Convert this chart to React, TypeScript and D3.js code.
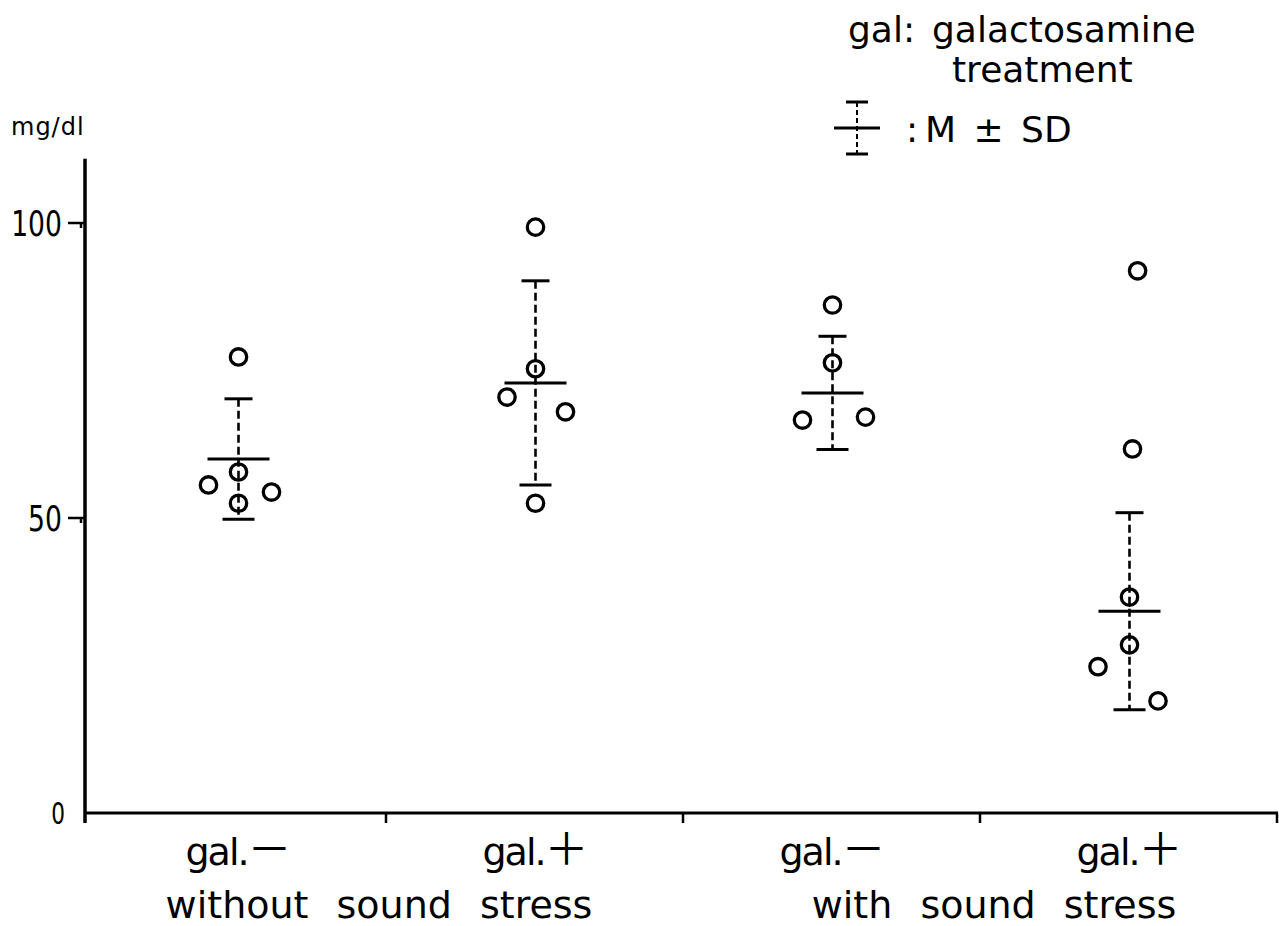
import React from "react";
import * as d3 from "d3";

const categories = ["gal.－", "gal.＋", "gal.－", "gal.＋"];
const groupLabels = ["without sound stress", "with sound stress"];
const yTicks = [0, 50, 100];

// individual values per category (mg/dl) and horizontal slot (-1 left, 0 center, 1 right)
const values1 = [77.3, 57.8, 55.6, 54.4, 52.5];
const slots1 = [0, 0, -1, 1.1, 0];
const values2 = [99.3, 75.3, 70.5, 68.0, 52.5];
const slots2 = [0, 0, -0.95, 1, 0];
const values3 = [86.1, 76.3, 66.6, 67.1];
const slots3 = [0, 0, -1, 1.1];
const values4 = [91.9, 61.7, 36.6, 28.5, 24.8, 19.0];
const slots4 = [0.27, 0.1, 0, 0, -1.05, 0.95];

const means = [60.0, 72.9, 71.2, 34.2];
const sds = [10.2, 17.3, 9.6, 16.7];

const W = 1279;
const H = 926;
const axisX = 85;
const font = "'DejaVu Sans', 'Noto Sans', sans-serif";
const cjk = "'Noto Sans CJK JP', 'Noto Sans CJK SC', sans-serif";

export default function App() {
  const y = d3.scaleLinear().domain([0, 100]).range([813, 223]);
  const x = d3
    .scaleBand<number>()
    .domain(categories.map((_, i) => i))
    .range([90, 1278])
    .padding(0);
  const bw = x.bandwidth();
  const cx = (i: number) => (x(i) as number) + bw / 2;
  const groups = [
    { v: values1, s: slots1 },
    { v: values2, s: slots2 },
    { v: values3, s: slots3 },
    { v: values4, s: slots4 },
  ];
  const slotW = 30;
  const meanHalf = 31;
  const capHalf = 14;
  const tickBounds = categories.map((_, i) => (x(i) as number) + bw);

  return (
    <svg
      width={W}
      height={H}
      style={{ position: "absolute", left: 0, top: 0, background: "#fff" }}
    >
      <rect x={0} y={0} width={W} height={H} fill="#fff" />
      {/* y axis */}
      <line x1={axisX} x2={axisX} y1={y(110.9)} y2={823} stroke="#000" strokeWidth={3.5} />
      {/* x axis */}
      <line x1={axisX} x2={1278} y1={y(0)} y2={y(0)} stroke="#000" strokeWidth={3} />
      {tickBounds.map((b, i) => (
        <line key={i} x1={b - 1} x2={b - 1} y1={y(0)} y2={y(0) + 10} stroke="#000" strokeWidth={2.5} />
      ))}
      {yTicks.map((t) => {
        const s = String(t);
        const big = t > 0;
        return (
          <g key={t}>
            {big && (
              <path
                d={`M${axisX - 17},${y(t)} L${axisX},${y(t)} M${axisX - 4},${y(t)} L${axisX - 4},${y(t) + 5}`}
                stroke="#000"
                strokeWidth={2.5}
                fill="none"
              />
            )}
            <text
              transform={`translate(${big ? axisX - 23 : axisX - 20},${y(t)}) scale(${big ? 0.74 : 0.72},1)`}
              dy="0.36em"
              textAnchor="end"
              fontFamily={font}
              fontSize={big ? 36 : 30}
              fill="#000"
            >
              {s}
            </text>
          </g>
        );
      })}
      <text x={11} y={135} fontFamily={font} fontSize={24} letterSpacing={1} fill="#000">
        mg/dl
      </text>

      {/* error bars and means */}
      {means.map((m, i) => {
        const c = cx(i);
        const top = y(m + sds[i]);
        const bot = y(m - sds[i]);
        return (
          <g key={i} stroke="#000" fill="none">
            <line x1={c} x2={c} y1={top} y2={bot} strokeWidth={2.6} strokeDasharray="8,4" />
            <line x1={c - capHalf} x2={c + capHalf} y1={top} y2={top} strokeWidth={3} />
            <line x1={c - capHalf - 2} x2={c + capHalf + 2} y1={bot} y2={bot} strokeWidth={3} />
            <line x1={c - meanHalf} x2={c + meanHalf} y1={y(m)} y2={y(m)} strokeWidth={3} />
          </g>
        );
      })}

      {/* individual points */}
      {groups.map((g, i) =>
        g.v.map((v, j) => (
          <circle
            key={`${i}-${j}`}
            cx={cx(i) + g.s[j] * slotW}
            cy={y(v)}
            r={8.2}
            fill="none"
            stroke="#000"
            strokeWidth={3.3}
          />
        ))
      )}

      {/* category labels */}
      {categories.map((c, i) => (
        <text
          key={i}
          x={cx(i)}
          y={865}
          textAnchor="middle"
          fontFamily={font}
          fontSize={38}
          fill="#000"
        >
          <tspan letterSpacing={-2}>{c.slice(0, -1)}</tspan>
          <tspan fontFamily={cjk} fontSize={44}>{c.slice(-1)}</tspan>
        </text>
      ))}
      {groupLabels.map((g, k) => (
        <text
          key={k}
          x={(cx(2 * k) + cx(2 * k + 1)) / 2 + (k === 0 ? -8 : 13)}
          y={918}
          textAnchor="middle"
          fontFamily={font}
          fontSize={38}
          wordSpacing={16}
          fill="#000"
        >
          {g}
        </text>
      ))}

      {/* legend */}
      <text x={848} y={42} fontFamily={font} fontSize={36} fill="#000">
        gal:
      </text>
      <text x={932} y={42} fontFamily={font} fontSize={36} fill="#000">
        galactosamine
      </text>
      <text x={952} y={82} fontFamily={font} fontSize={36} fill="#000">
        treatment
      </text>
      <g stroke="#000" fill="none">
        <line x1={857} x2={857} y1={102} y2={154} strokeWidth={2} strokeDasharray="5,3" />
        <line x1={846} x2={868} y1={102} y2={102} strokeWidth={3} />
        <line x1={846} x2={868} y1={154} y2={154} strokeWidth={3} />
        <line x1={834} x2={880} y1={128} y2={128} strokeWidth={3} />
      </g>
      <text x={906} y={142} fontFamily={font} fontSize={36} fill="#000">
        :
      </text>
      <text x={925} y={142} fontFamily={font} fontSize={36} wordSpacing={6} fill="#000">
        M ± SD
      </text>
    </svg>
  );
}
